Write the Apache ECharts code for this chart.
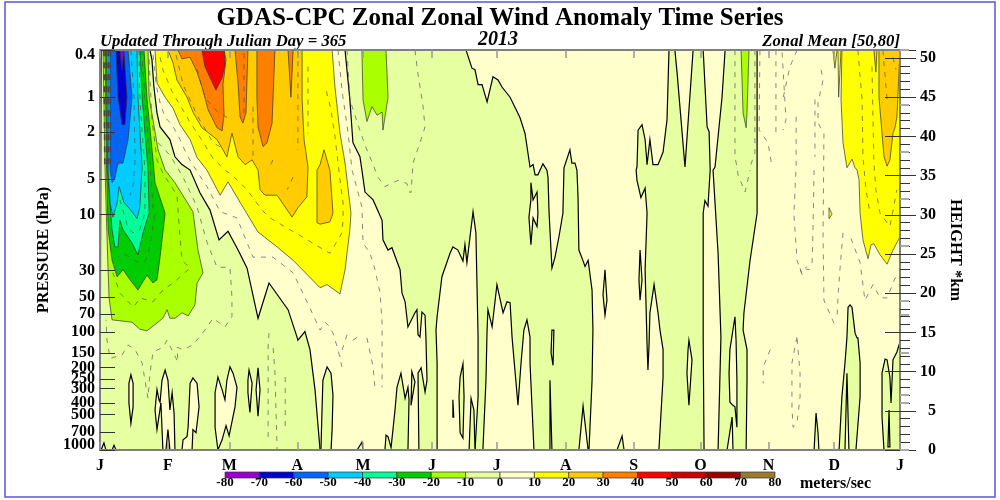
<!DOCTYPE html>
<html><head><meta charset="utf-8">
<style>html,body{margin:0;padding:0;background:#fff}#c{width:1000px;height:500px}</style>
<script src="https://cdn.jsdelivr.net/npm/echarts@6/dist/echarts.min.js"></script>
</head><body><div id="c"></div>
<script>
// Contour bands, each point = [day of year, height km]
const paleYellowBase = [[[0,0],[365,0],[365,51.02],[0,51.02]]];
const paleGreenAreas = [
 [[0.5,51],[22.8,51],[23.7,49.8],[24.6,46.3],[26,43],[27.4,41.2],[31.9,39.6],[34.2,37.4],[37.4,36.4],[41.1,35.7],[45.6,32.8],[50.2,30.6],[54.3,26.8],[58.4,27.9],[63,25.5],[67.1,23.2],[72.1,16.8],[77.1,21.3],[85.8,17.9],[89.9,14.4],[90.3,14],[93.5,15.1],[95.8,12.8],[98.1,7.7],[100.4,0],[0,0]],
 [[100.8,0],[101.3,5.1],[101.7,8.9],[103.6,10.6],[105.4,9.8],[106.3,7],[105.9,2.6],[105.4,0]],
 [[117.3,0],[119.5,1],[120,0]],
 [[130,0],[130.5,1.9],[131.4,1.7],[132.8,.3],[134.6,5.1],[135.5,8],[137.3,9.8],[139.2,6.6],[140.5,8],[141,6.4],[140.5,0]],
 [[142.3,10],[143.7,8.7],[141.9,5.7]],
 [[111.8,51],[114,44.7],[115.4,39.2],[118.6,37.4],[119.5,35.7],[120.9,32.9],[124.6,31.9],[128.7,29.3],[129.1,26.8],[131.4,25.5],[133.2,25.8],[136.9,23],[137.8,20],[139.2,18.9],[140.5,15.7],[143.7,17.5],[144.6,17.9],[145.1,14.7],[146,14.4],[146.9,17.6],[148.3,17.2],[148.7,14.4],[149.2,8.9],[148.3,7.4],[146.5,10.5],[145.1,9.8],[145.5,0],[153.8,0],[153.8,11.1],[153.3,15.3],[153.8,17],[156,22.1],[159.7,25.1],[161,25.9],[163.3,25.5],[165.6,24.1],[166.5,26.2],[167.4,23.9],[170.2,30.4],[171.5,27.7],[172.5,14.4],[172.5,6.8],[171.1,0],[174.7,0],[176.1,8.9],[176.6,15.3],[177,17.9],[178.9,15.7],[181.1,21.1],[183.9,17.5],[185.7,18.9],[187.1,18.8],[188,14.4],[189.3,10.2],[190.7,5.7],[192.1,11.1],[193.4,15.3],[194.8,16.6],[196.2,14.4],[196.2,11.1],[198,0],[218.5,0],[220.4,5.6],[222.7,0],[223.1,0],[224.5,8.9],[224.9,15.3],[224.5,20.4],[222.7,24.2],[221.3,23.4],[219.9,24.5],[218.5,25.5],[218.1,32.3],[217.6,35.7],[216.7,36.6],[215.3,36.6],[214.4,38.3],[211.7,36],[211.2,30.2],[209.4,27.2],[207.6,24.6],[206.2,23.2],[204.9,30.2],[204.4,34.8],[203.9,35.7],[202.1,36.5],[199.8,35.1],[198.5,35.1],[197.6,36.4],[196.2,36.1],[193.9,40.4],[191.6,42.4],[187.1,45],[183.4,46.3],[181.6,47.2],[179.3,47.6],[176.6,44.4],[174.3,46.6],[172.5,46.6],[171.1,48.5],[169.7,48.7],[167,51]],
 [[168.4,0],[169.3,6.6],[170.6,5.1],[171.1,0]],
 [[165.6,11],[166.1,6.8],[165.6,1.5],[164.3,2.2],[163.8,6.8],[164.3,9.3]],
 [[161,6.4],[161.4,4.2],[161,4.2]],
 [[230.4,23],[231.3,19.1],[230.4,17.2],[229.5,19.8]],
 [[246.4,25.5],[247.3,21.7],[246.4,19.1],[245.9,21.7]],
 [[235.9,0],[238.2,1.8],[239.1,0]],
 [[255,0],[256.9,9.3],[256.9,12.8],[255.5,15.3],[254.6,17.5],[252.8,21.1],[250.9,17.5],[250.5,13.4],[250,10.2],[249.6,13.4],[248.7,23],[249.6,30.2],[248.7,33.4],[246.8,32.2],[245,34.4],[244.6,35.7],[245,36.1],[245.5,40.8],[247.3,41.5],[248.7,39.6],[249.6,36.4],[250.9,39.6],[252.3,36.4],[254.6,36.4],[256.9,38],[258.7,42.1],[259.6,51],[262.3,51],[263.3,48.1],[266.9,36.1],[270.6,51],[275.2,51],[277,41.2],[277.9,40.6],[278.4,35.7],[277.4,31.1],[276,31.8],[275.2,30.2],[275.2,14.4],[275.6,0]],
 [[285.2,51],[283.8,45],[280.6,36.1],[279.7,35.7],[282,25.1],[283.3,14.4],[282,0],[294.8,0],[295.2,8.9],[295.2,12.8],[293.4,15.3],[293.8,17.5],[296.6,24.2],[299.8,30.2],[299.8,51]],
 [[337.2,0],[338.5,6.8],[339.9,11.1],[340.8,14.4],[341.3,18.2],[342.2,18.5],[343.1,18.2],[344.5,14.9],[345.4,14.3],[345.8,14.3],[346.8,11.1],[346.8,6.8],[344.9,0]],
 [[325.8,0],[326.7,4.7],[327.6,2.2],[328,0]],
 [[357.7,0],[356.8,4.2],[356.8,9.8],[358.2,11.6],[359.1,11.5],[360.4,9.3],[360.9,6],[361.8,11.5],[363.6,12.5],[365,13.8],[365,0]]
];
const paleYellowIslands = [
 [[14.1,9.6],[15.1,8.5],[15.1,5.5],[14.1,3.4],[13.2,6],[13.2,8.5]],
 [[26,7.7],[26.9,6.4],[27.4,6.1],[28.3,8.9],[29.7,10.2],[31,8.9],[31.9,5.1],[32.9,7.3],[33.8,4.7],[34.2,0],[31.9,0],[31,2.6],[30.1,0],[28.7,0],[27.8,6],[26,2.6],[25.1,5.1]],
 [[37.4,0],[37.9,1.3],[39.7,1.7],[40.2,2.9],[41.1,8.5],[42.4,9.2],[44.3,8.5],[45.2,5.5],[43.8,2.2],[42.4,2.6],[42,0]],
 [[53.8,0],[52.5,2.9],[52.5,7.3],[53.8,9.3],[55.7,7.7],[57,6.4],[57.9,8.9],[59.3,10.6],[60.7,9.8],[62.5,8],[61.6,5.5],[58.9,1.8],[57.5,3.1],[55.7,1.3]],
 [[68,10.2],[69.4,8.5],[68.4,4.8],[67.5,7.3],[67.5,8.9]],
 [[72.1,10.5],[73,7.7],[72.1,4.3],[71.2,7.7]],
 [[0.5,0],[1.8,0.9],[2.7,0]],
 [[5.5,0],[6.4,0.6],[7.3,0]],
 [[206.2,15.3],[205.8,12.4],[206.7,10.8],[207.1,15.3]],
 [[205.3,8.9],[206.2,0],[205.3,0]],
 [[196.6,34.1],[197.6,31.9],[199.4,32.9],[199.8,30.2],[199.4,28.5],[197.6,29.6],[196.6,26.2],[195.7,29.7],[196.6,31.9]],
 [[268.7,14],[270.1,11.5],[268.7,5.7],[267.8,9.8],[268.3,12.8]],
 [[289.7,17],[287.4,12.8],[287,9.8],[287.4,6.1],[288.8,5.7],[289.7,5.5],[290.6,2.9],[290.6,8.9],[290.2,14]],
 [[286.1,0],[288.4,4.2],[288.8,0]],
 [[340.8,9.8],[339.9,0],[341.7,0]],
 [[360,5.1],[360.4,.4],[359.5,.4]]
];
const limeAreas = [
 [[1.4,51],[21.9,51],[22.4,45],[26.5,38.3],[29.7,35.7],[34.2,34.1],[42.4,30.4],[44.7,25.5],[47,22.6],[44.3,21.3],[43.3,18.5],[40.2,17.1],[37.4,17.5],[34.2,16.8],[31.9,16.8],[30.6,17.9],[28.7,16.8],[21.4,15.2],[18.2,15.4],[14.6,16.3],[5.5,16.6],[4.1,19.5],[3.2,27.2],[2.3,35.7]],
 [[119.5,51],[120,44.7],[121.8,41.9],[124.1,43.8],[126.4,42.7],[128.7,43.1],[129.1,40.8],[131.4,45],[130.5,51]],
 [[292.5,51],[293.4,43],[294.8,41.1],[295.2,43],[296.1,51]]
];
const greenAreas = [[[2.3,51],[20.1,51],[21.4,45],[24.2,37],[25.1,34.1],[29.7,30.2],[27.4,24.6],[26,21.7],[24.2,21.3],[21.4,22.3],[17.3,20.4],[13.7,21.7],[10.5,23],[7.8,22.1],[5.5,24.2],[3.7,28.1],[3,35.7]]];
const tealAreas = [[[3,51],[18.2,51],[19.2,45],[21.9,35.7],[22.4,30.2],[19.6,27.7],[17.3,24.9],[14.6,26.4],[10.5,28.1],[9.1,29.3],[8.2,25.9],[6.8,25.9],[5.5,28.1],[3.4,35.7]]];
const cyanAreas = [[[3.7,51],[16.9,51],[17.3,45],[19.2,36.1],[18.2,31],[16.9,29.5],[14.6,30.4],[10.9,31.6],[8.7,33.6],[7.8,31.5],[5.9,29.7],[4.6,31.5],[3.7,35.7]]];
const blueAreas = [[[4.6,51],[12.8,51],[14.6,45],[12.8,39.6],[10.5,36.6],[8.2,36.6],[6.8,34.7],[5.5,34.1],[4.6,35.7]]];
const navyAreas = [[[7.3,51],[8.2,45],[10,41.5],[11.4,41.5],[12.3,45],[10.9,51]]];
const purpleAreas = [[[9.1,51],[10,48.5],[10.9,51]]];
const yellowAreas = [
 [[25.1,51],[26,46.8],[29.7,45],[33.3,43.6],[36.5,41.5],[41.1,39.6],[44.3,37.3],[48.8,35.7],[54.8,32.5],[58.4,34.2],[63.9,31.6],[72.1,27.8],[80.8,25.9],[88.1,24.2],[100.4,20.7],[103.6,21.1],[109.5,19.9],[111.8,23],[114,28.1],[114.5,30.2],[111.8,36.6],[109.5,40.4],[107.2,46.3],[105.9,51]],
 [[338.5,51],[338.1,44.7],[339,39.2],[340.8,36],[343.1,37.1],[344.5,36],[345.4,35.7],[346.3,34.5],[346.8,30.2],[348.1,26.8],[350.4,24.4],[351.8,26.2],[353.1,26.3],[355.9,24.9],[359.1,23.7],[361.8,25.5],[365,27.2],[365,51]],
 [[334.4,51],[335.3,48.7],[336.3,51]],
 [[336.7,51],[337,45],[338.1,51]],
 [[332.6,30.9],[334,30.1],[332.6,29.5]]
];
const goldAreas = [
 [[31,51],[33.3,49.4],[35.1,47.2],[39.7,45],[42.4,43.1],[46.5,41.1],[53.4,39.6],[57.9,37.4],[60.2,40.4],[63,37.4],[66.2,36.4],[69.4,37],[72.1,35.7],[73,33.2],[75.3,32.5],[80.8,32.5],[87.6,29.7],[90.3,30.9],[94.4,32.3],[94.9,36.1],[93.1,39.6],[92.2,44.7],[92.2,51]],
 [[99,35.7],[99,29],[100.4,28.8],[104.9,29.1],[106.3,30.2],[104.9,35.7],[102.2,38.3],[100.4,36.4]],
 [[355.4,51],[355.4,45],[356.8,40.4],[357.7,37.4],[359.1,36.2],[360.4,37],[361.8,40.4],[362.7,41.1],[363.6,42.5],[365,51]],
 [[353.1,51],[354,48.2],[354.5,51]]
];
const orangeAreas = [
 [[35.6,51],[37.4,49.9],[41.1,50.1],[44.3,48.2],[47,45.9],[49.3,43.4],[53.4,41.1],[55.7,40.7],[56.6,42.7],[56.1,46.6],[57.5,49.8],[56.6,51]],
 [[61.6,51],[63,46.8],[63.9,42.5],[65.2,41.7],[66.6,43],[67.5,51]],
 [[71.6,51],[71.6,45],[72.1,41.2],[74.4,38.7],[76.2,39.2],[78.5,41.7],[79.8,51]],
 [[85.8,51],[87.1,45],[88.1,51]]
];
const redAreas = [[[46.5,51],[47.9,48.9],[50.2,47.5],[52.9,45.9],[55.7,47.5],[57,49.1],[56.6,51]]];
const denseLeftContours = [
 [[1.8,51],[2.2,36]],[[2.7,51],[3.2,36]],[[3.7,51],[3.9,36]],[[4.6,51],[4.8,36]]
];
const dashedContours = [
 [[26.5,39.2],[31.9,37.6],[37.9,34.8],[44.3,31],[48.8,26.5],[53.4,23.3],[59.3,23.3],[60.2,19.5],[60.2,17],[57,15.7],[51.6,16.8],[47.9,15.3],[42.4,13.4],[37.9,12.8],[35.1,13.1],[35.6,11.2],[30.6,14],[28.7,13.1],[24.2,12.5],[22.8,9.8],[21.9,6.6],[19.2,11.1],[16,12.8],[12.8,13.4],[10,12.1],[4.6,11.7],[3.2,14],[2.7,16.6]],
 [[24.2,50.4],[25.6,46.6],[27.4,44.3],[29.7,42.4],[32.9,41.5],[36.5,39.6],[39.7,37.6],[44.3,35.5],[48.8,33.6],[54.8,30.4],[62.5,29.6],[69.8,24.6],[78.9,24.6],[88.1,22.6],[95.8,18.1],[100.4,15.3],[102.7,16.3],[104.9,15.7],[106.3,14.9],[108.6,12.8],[110.4,10.6]],
 [[108.6,51],[110.4,45.9],[113.2,40.4],[115,35.7],[117.7,32.9],[119.5,31],[120,26.4],[123.2,25.1],[125.5,23],[127.8,20],[128.7,16.2],[128.7,8]],
 [[27.4,50.1],[28.7,48.5],[32.9,45.7],[36.5,44],[41.1,41.8],[45.6,39.9],[51.6,37.2],[57,35.7],[60.2,35.1],[67.1,33.2],[73.9,30.6],[77.6,29.6],[85.4,28.3],[93.5,27],[98.1,26.2],[104.9,25.1],[110.4,27.7],[110.9,29.3],[110.9,31.5],[109.5,34.5],[107.2,40],[105.4,43.4],[102.7,46.4]],
 [[34.7,50.4],[37.9,46.6],[44.3,42.7],[51.6,39.2],[57,38.3]],
 [[69.8,43.8],[69.8,37.4]],[[90.3,51],[90.3,38.3]],[[94.9,48.9],[94.9,40.4]],[[78.9,37],[76.7,35.7]],[[88.1,34.8],[85.4,33.2]],[[65.7,50.6],[65.7,42.1]],
 [[44.3,48.6],[47.9,44.9],[53.4,43.2],[58,42.4]],
 [[22.4,49.8],[23.7,42.1],[26,37],[28.7,35.3],[35.1,32.5],[36.5,27.2],[37.4,24.2],[41.1,23.2],[33.3,21.3],[28.7,20.4],[24.2,18.9],[18.2,19.4],[15.3,18.2],[9.1,20],[5.9,22.6]],
 [[19,51],[20.5,45],[22.8,36.4],[24.2,31],[25.1,30],[22.4,25.5],[20.5,24],[16.9,24],[10.5,25.1],[8.2,24.6]],
 [[17.8,51],[18.2,44.7],[20.5,35.7],[20.5,30.2],[18.2,28.1],[15.1,27.7],[12.8,28.3],[9.1,31.9]],
 [[14.1,51],[15.5,45],[16,37],[15.1,33.8],[13.7,32.5]],
 [[5.9,51],[6.8,44.7],[8.2,39.6],[8.7,35.7]],
 [[112.7,51],[114,44.7],[117.7,41.5],[120.9,38.9],[124.6,36.4],[126.8,34.8],[130,33.6],[136,34.4],[140,34],[141.4,32.8]],
 [[143.7,51],[145,48.1],[147.4,43.8],[148.3,41.2],[146,39.2],[142.8,36.6],[141.9,32.8]],
 [[121.8,14.3],[124.6,10.6],[125.5,7.7]],[[112.7,14.7],[109.5,11.9]],[[115.4,14],[119,14.7]],
 [[77.1,14.9],[76.7,13],[76.7,1]],[[79,13],[79.8,10],[80.8,0]],[[84.5,9.3],[84.5,2.9]],
 [[289.7,51],[289.7,37.4],[290.6,36.1],[291.1,35.1],[294.3,32.9],[296.6,35.7]],
 [[298.8,51],[298.8,37.9],[296.6,36.1]],
 [[301.1,51],[300.7,40.8],[304.8,39.2],[306.6,36.1]],
 [[308.4,51],[308.4,40.4]],
 [[311.2,50.7],[313,42.1],[311.6,40.8]],
 [[318,51],[314.8,48.9],[311.2,44.3]],
 [[317.6,42.5],[317.6,36.1],[316.6,30.2],[318,24.2],[320.7,22.1],[319.4,23.2],[323.9,23]],
 [[325.8,35.7],[325.3,28.1],[324.9,23.9],[321.7,23.2]],
 [[326.2,44.7],[326.2,37.4]],
 [[329,48.5],[329.9,47.2],[327.6,44.3],[327.6,41.7],[330.3,40.4],[329.9,27.2],[330.3,19.1],[335.3,15.9]],
 [[339,27.7],[337.6,23],[336.7,19.5],[336.3,17]],
 [[342.6,27],[346.8,23.9],[349,19.1],[352.7,21.1],[355.9,19.4],[359.1,19.4],[362.7,21.9],[364.1,22.1]],
 [[345.8,51],[346.8,47.6],[347.7,44.7],[348.1,37.4],[349.5,33.2],[351.3,30.2]],
 [[352.2,48.9],[353.1,36.6],[354,33.2],[355.9,30.2],[360.4,28.5],[363.6,33.2]],
 [[357.2,51],[359.1,44.7]],[[361.8,50.1],[363.2,48.5]],
 [[305.8,12.8],[302.6,10.6],[302.6,8.5]],
 [[318,14.4],[315.7,11.1],[315.7,5.5],[316.2,2.9],[318,3.4],[319.4,6.8],[319.4,9.8],[318,14.4]]
];
const monthDays = [0,31,59,90,120,151.5,181,212.5,243.5,274,305,335,365];
const monthLabels = ['J','F','M','A','M','J','J','A','S','O','N','D','J'];
const pressureTicks = [0.4,1,2,5,10,30,50,70,100,150,200,250,300,400,500,700,850,1000];
const heightMajorKm = [0,5,10,15,20,25,30,35,40,45,50];
const rightStubKm = [51,44,38,32,26,19,17.3,12.4,7,6,0];
const levels = [-80,-70,-60,-50,-40,-30,-20,-10,0,10,20,30,40,50,60,70,80];
const levelColors = ['#9900cc','#0000cc','#0066ff','#00ccff','#00ff99','#00cc00','#aaff00','#e6ffa0','#ffffcc','#ffff00','#ffcc00','#ff8000','#ff0000','#cc0000','#990000','#997a33'];

const layers = [];
function add(list, fill, stroke, w){ list.forEach(pts => layers.push({pts, fill, stroke, w})); }
add(paleYellowBase, levelColors[8], 'none', 0);
add(paleGreenAreas, levelColors[7], '#000', 1.2);
add(paleYellowIslands, levelColors[8], '#000', 1.2);
add(limeAreas, levelColors[6], '#333', .7);
add(greenAreas, levelColors[5], '#333', .7);
add(tealAreas, levelColors[4], '#333', .7);
add(cyanAreas, levelColors[3], '#333', .7);
add(blueAreas, levelColors[2], '#333', .7);
add(navyAreas, levelColors[1], '#333', .7);
add(purpleAreas, levelColors[0], '#333', .7);
add(yellowAreas, levelColors[9], '#333', .7);
add(goldAreas, levelColors[10], '#333', .7);
add(orangeAreas, levelColors[11], '#333', .7);
add(redAreas, levelColors[12], '#333', .7);
dashedContours.forEach(pts => layers.push({pts, dash:[5,6], dashWidth:.7, dashColor:'#555'}));
denseLeftContours.forEach(pts => layers.push({pts, dash:[6,6], dashWidth:1.6, dashColor:'#444'}));

const SERIF = '"Liberation Serif"';
const chart = echarts.init(document.getElementById('c'), null, {renderer:'canvas'});
const box = {left:100, right:100, top:50, bottom:50};
const axisGrey = '#808080';
const boldText = size => ({color:'#000', fontFamily:SERIF, fontWeight:'bold', fontSize:size});
const hiddenX = i => ({type:'value', gridIndex:i, min:0, max:365, show:false});
chart.setOption({
 animation:false,
 backgroundColor:'#fff',
 title:{text:'GDAS-CPC Zonal Zonal Wind Anomaly Time Series', left:'center', top:1,
   textStyle:{fontFamily:SERIF, fontWeight:'bold', fontSize:25, color:'#000'}},
 grid:[box, box, box, box, {left:225, right:225, top:472, height:6}],
 xAxis:[
  {type:'value', gridIndex:0, min:0, max:365, position:'bottom', z:5, splitLine:{show:false},
   axisLine:{onZero:false, lineStyle:{color:axisGrey,width:2}},
   axisTick:{show:true, inside:true, length:8, customValues:monthDays, lineStyle:{color:'#999',width:1.5}},
   axisLabel:Object.assign({show:true, customValues:monthDays, margin:8, formatter:v=>monthLabels[monthDays.indexOf(v)]}, boldText(16))},
  {type:'value', gridIndex:1, min:0, max:365, position:'top', z:5, splitLine:{show:false},
   axisLine:{onZero:false, lineStyle:{color:axisGrey,width:2}},
   axisTick:{show:true, inside:true, length:8, customValues:monthDays, lineStyle:{color:'#999',width:1.5}},
   axisLabel:{show:false}},
  hiddenX(2), hiddenX(3),
  {type:'value', gridIndex:4, min:-80, max:80, interval:10, z:5, splitLine:{show:false},
   axisLine:{show:false}, axisTick:{show:false},
   axisLabel:Object.assign({margin:-2, hideOverlap:false}, boldText(13))}
 ],
 yAxis:[
  {type:'value', gridIndex:0, min:0, max:51.02, position:'right', z:5, interval:5, splitLine:{show:false}, minorSplitLine:{show:false},
   axisLine:{show:true, onZero:false, lineStyle:{color:axisGrey,width:2}},
   axisTick:{show:true, length:16, lineStyle:{color:'#333',width:1}},
   minorTick:{show:true, splitNumber:5, length:10, lineStyle:{color:'#333',width:1}},
   axisLabel:Object.assign({show:true, showMaxLabel:false, margin:36, align:'right', padding:[0,0,6,0]}, boldText(16)),
   name:'HEIGHT *km', nameLocation:'middle', nameRotate:-90, nameGap:47,
   nameTextStyle:boldText(16.5)},
  {type:'log', gridIndex:1, min:0.4, max:1000, inverse:true, position:'left', z:5, logBase:10, splitLine:{show:false}, minorSplitLine:{show:false},
   axisLine:{show:true, onZero:false, lineStyle:{color:axisGrey,width:2}},
   axisTick:{show:true, inside:true, length:15, customValues:pressureTicks, lineStyle:{color:'#333',width:1}},
   minorTick:{show:false},
   axisLabel:Object.assign({show:true, showMinLabel:true, showMaxLabel:true, customValues:pressureTicks, margin:5, hideOverlap:false,
     formatter:v=> v<0.5 ? '{low|0.4}' : v>=999 ? '{high|1000}' : String(Math.round(v)),
     rich:{low:Object.assign({padding:[10,0,0,0]}, boldText(16)), high:Object.assign({padding:[0,0,10,0]}, boldText(16))}}, boldText(16)),
   name:'PRESSURE (hPa)', nameLocation:'middle', nameRotate:90, nameGap:47,
   nameTextStyle:boldText(16.2)},
  {type:'value', gridIndex:2, min:0, max:51.02, position:'right', z:5, splitLine:{show:false},
   axisLine:{show:false, onZero:false},
   axisTick:{show:true, inside:true, length:15, customValues:heightMajorKm, lineStyle:{color:'#333',width:1}},
   axisLabel:{show:false}},
  {type:'value', gridIndex:3, min:0, max:51.02, position:'right', z:6, splitLine:{show:false},
   axisLine:{show:false, onZero:false},
   axisTick:{show:true, length:9, customValues:rightStubKm, lineStyle:{color:'#aaa',width:2}},
   axisLabel:{show:false}},
  {type:'value', gridIndex:4, min:0, max:1, show:false}
 ],
 series:[
  {type:'custom', xAxisIndex:0, yAxisIndex:0, z:1, clip:true, silent:true,
   coordinateSystem:'cartesian2d', encode:{x:0,y:1},
   data:layers.map((l,i)=>[l.pts[0][0], l.pts[0][1], i]),
   renderItem:(p,api)=>{
     const l = layers[p.dataIndex];
     const points = l.pts.map(q=>api.coord(q));
     if (l.dash) return {type:'polyline', shape:{points}, style:{fill:null, stroke:l.dashColor, lineWidth:l.dashWidth, lineDash:l.dash}};
     return {type:'polygon', shape:{points}, style:{fill:l.fill, stroke:l.stroke, lineWidth:l.w}};
   }},
  {type:'custom', xAxisIndex:4, yAxisIndex:4, z:2, silent:true, coordinateSystem:'cartesian2d', encode:{x:[0,1]},
   data:levelColors.map((c,i)=>[levels[i],levels[i+1],i]),
   renderItem:(p,api)=>{
     const a = api.coord([levels[p.dataIndex],0]), b = api.coord([levels[p.dataIndex+1],1]);
     return {type:'rect', shape:{x:a[0],y:b[1],width:b[0]-a[0],height:a[1]-b[1]}, style:{fill:levelColors[p.dataIndex], stroke:'#333', lineWidth:.7}};
   }}
 ],
 graphic:[
  {type:'rect', silent:true, shape:{x:5,y:2,width:990,height:495}, style:{fill:null, stroke:'#5555dd', lineWidth:1.5}},
  {type:'text', left:100, top:33, style:{text:'Updated Through Julian Day = 365', fontFamily:SERIF, fontStyle:'italic', fontWeight:'bold', fontSize:16.7, fill:'#000'}},
  {type:'text', left:478, top:30, style:{text:'2013', fontFamily:SERIF, fontStyle:'italic', fontWeight:'bold', fontSize:20, fill:'#000'}},
  {type:'text', right:100, top:33, style:{text:'Zonal Mean [50,80]', fontFamily:SERIF, fontStyle:'italic', fontWeight:'bold', fontSize:16.7, fill:'#000'}},
  {type:'text', left:800, top:476, style:{text:'meters/sec', fontFamily:SERIF, fontWeight:'bold', fontSize:16, fill:'#000'}}
 ]
});
</script></body></html>
